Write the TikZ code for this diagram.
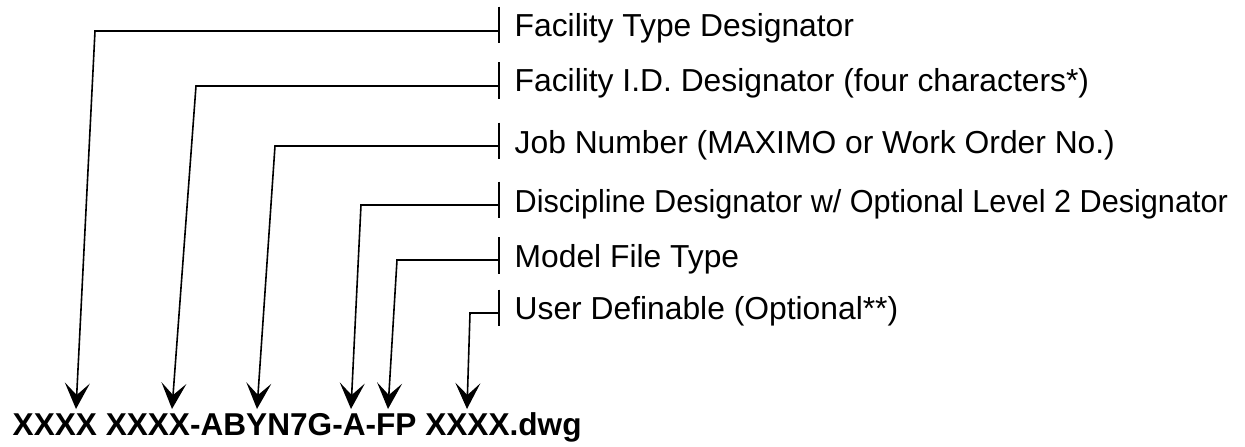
\documentclass[tikz,border=0pt]{standalone}
\usepackage{fontspec}
\setmainfont{Liberation Sans}
\usetikzlibrary{arrows.meta}
\begin{document}
\begin{tikzpicture}[x=1pt,y=-1pt,
  txt/.style={anchor=base west, inner sep=0pt, font=\fontsize{31.8}{38}\selectfont},
  code/.style={anchor=base west, inner sep=0pt, font=\fontsize{31.6}{38}\selectfont\bfseries},
  bar/.style={line width=1.6pt},
  lead/.style={line width=1.6pt, line join=miter,
    -{Stealth[length=26pt,width=25pt,inset=12pt]}}]
  \useasboundingbox (0,0) rectangle (1245,447);

  % file name pattern
  \node[code] (fname) at (12.5,435.5) {XXXX XXXX-ABYN7G-A-FP XXXX.dwg};

  % field descriptions
  \node[txt] (l1) at (514.5,36.9)  {Facility Type Designator};
  \node[txt] (l2) at (514.5,91.9)  {Facility I.D. Designator (four characters*)};
  \node[txt] (l3) at (514.5,153.6) {Job Number (MAXIMO or Work Order No.)};
  \node[txt] (l4) at (514.5,212.4) {\scalebox{0.963}[1]{Discipline Designator w/ Optional Level 2 Designator}};
  \node[txt] (l5) at (514.5,267.4) {Model File Type};
  \node[txt] (l6) at (514.5,319.9) {User Definable (Optional**)};

  % tick bars beside the descriptions
  \foreach \i/\c in {1/25,2/80.5,3/141,4/200,5/255.5,6/308}{
    \coordinate (ta\i) at (499,\c-18.3);
    \coordinate (tb\i) at (499,\c+18.3);
    \draw[bar] (ta\i) -- (tb\i);
  }

  % leader joints, bends and tips
  \coordinate (j1) at (499,31);   \coordinate (b1) at (95,31);   \coordinate (p1) at (76,409);
  \coordinate (j2) at (499,86);   \coordinate (b2) at (196,86);  \coordinate (p2) at (172,409);
  \coordinate (j3) at (499,146);  \coordinate (b3) at (275,146); \coordinate (p3) at (257,409);
  \coordinate (j4) at (499,205);  \coordinate (b4) at (361,205); \coordinate (p4) at (351,409);
  \coordinate (j5) at (499,260);  \coordinate (b5) at (397,260); \coordinate (p5) at (388,409);
  \coordinate (j6) at (499,313);  \coordinate (b6) at (470,313); \coordinate (p6) at (467,409);

  \foreach \i in {1,...,6}{
    \draw[lead] (j\i) -- (b\i) -- (p\i);
  }
\end{tikzpicture}
\end{document}
